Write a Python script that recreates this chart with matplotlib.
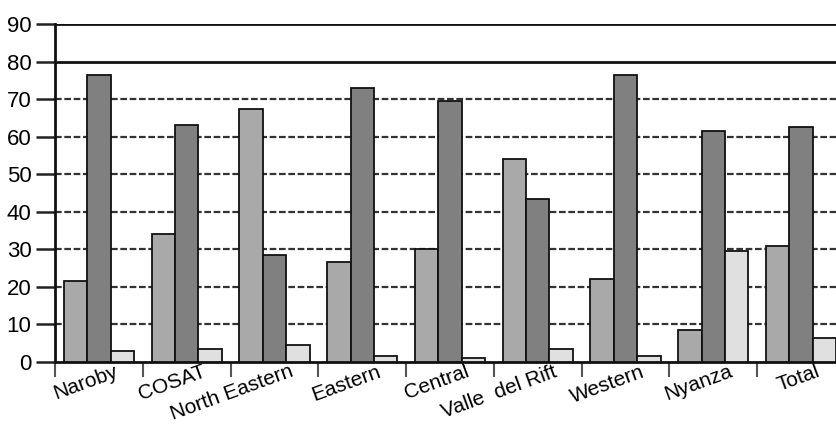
import matplotlib
matplotlib.use("Agg")
import matplotlib.pyplot as plt
import matplotlib.transforms as mtransforms
import numpy as np

categories = ["Naroby", "COSAT", "North Eastern", "Eastern", "Central",
              "Valle  del Rift", "Western", "Nyanza", "Total"]
series_a = [21.5, 34, 67.5, 26.5, 30, 54, 22, 8.5, 31]
series_b = [76.5, 63, 28.5, 73, 69.5, 43.5, 76.5, 61.5, 62.5]
series_c = [3, 3.5, 4.5, 1.5, 1, 3.5, 1.5, 29.5, 6.5]
y_ticks = [0, 10, 20, 30, 40, 50, 60, 70, 80, 90]

plt.rcParams['font.family'] = ['Liberation Sans', 'DejaVu Sans']

fig = plt.figure(figsize=(8.37, 4.29), dpi=100)
ax = fig.add_axes([55/837, 1-362/429, (845-55)/837, (362-24)/429])

x = np.arange(len(categories))
w = 0.267
colors = ['#a9a9a9', '#808080', '#e0e0e0']
for i, (vals, c) in enumerate(zip([series_a, series_b, series_c], colors)):
    ax.bar(x + (i-1)*w, vals, width=w, color=c, edgecolor='#111111',
           linewidth=1.3, zorder=3)

for v in y_ticks[1:]:
    if v >= 80:
        ax.axhline(v, color='#111111', lw=2.0, zorder=1)
    else:
        ax.axhline(v, color='#333333', lw=1.6, ls=(0, (3, 1.2)), zorder=1)

ax.set_xlim(-0.5, len(categories)-0.5)
ax.set_ylim(0, 90)
ax.set_yticks(y_ticks)
ax.set_yticklabels([str(v) for v in y_ticks], fontsize=16)
ax.tick_params(axis='y', length=14, width=1.8, color='#222222', pad=3)

ax.set_xticks(np.arange(len(categories)+1) - 0.5, minor=False)
ax.set_xticklabels([])
ax.tick_params(axis='x', length=11, width=1.5, color='#555555')
ax.set_xticks(x, minor=True)
ax.set_xticklabels(categories, minor=True, fontsize=15, rotation=20,
                   ha='right', rotation_mode='anchor')
ax.tick_params(axis='x', which='minor', length=0, pad=0)
offset = mtransforms.ScaledTranslation(15/100, 0, fig.dpi_scale_trans)
for lbl in ax.xaxis.get_minorticklabels():
    lbl.set_transform(lbl.get_transform() + offset)

for s in ['top', 'right']:
    ax.spines[s].set_visible(False)
ax.spines['left'].set_linewidth(2.0)
ax.spines['left'].set_color('#111111')
ax.spines['bottom'].set_linewidth(2.0)
ax.spines['bottom'].set_color('#111111')

fig.savefig("out.png", dpi=100)
